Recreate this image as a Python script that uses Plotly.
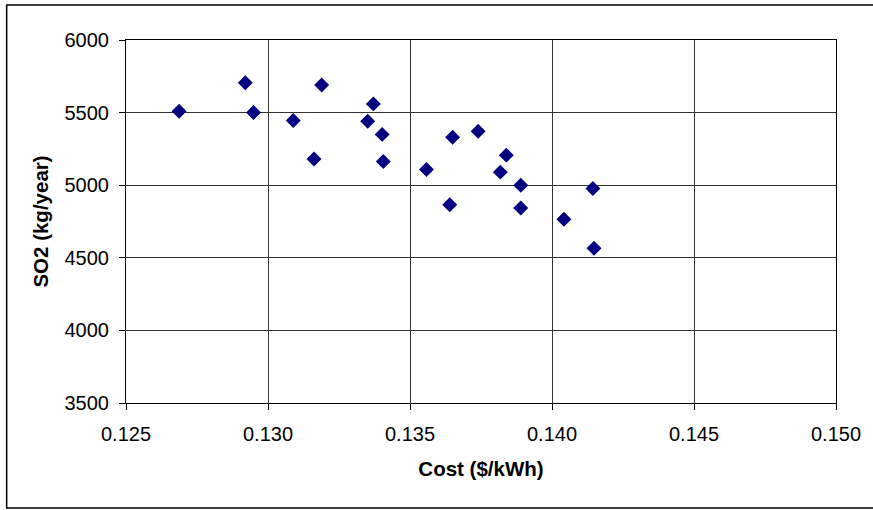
import plotly.graph_objects as go

# Cost vs. SO2 emissions for each design option
cost = [0.12687, 0.12920, 0.12949, 0.13089, 0.13162, 0.13189, 0.13351,
        0.13371, 0.13402, 0.13406, 0.13558, 0.13640, 0.13650, 0.13740,
        0.13818, 0.13839, 0.13890, 0.13890, 0.14042, 0.14144, 0.14148]
so2 = [5510, 5705, 5500, 5445, 5180, 5690, 5440,
       5560, 5350, 5163, 5108, 4866, 5330, 5372,
       5090, 5207, 5000, 4843, 4766, 4977, 4566]

x_ticks = [0.125, 0.130, 0.135, 0.140, 0.145, 0.150]
x_tick_text = ["0.125", "0.130", "0.135", "0.140", "0.145", "0.150"]
y_ticks = [3500, 4000, 4500, 5000, 5500, 6000]

W, H = 873, 510
ML, MR, MT, MB = 126, 33, 40, 107
pw, ph = W - ML - MR, H - MT - MB

FONT = "Liberation Sans, Arial, sans-serif"

fig = go.Figure(
    go.Scatter(
        x=cost, y=so2, mode="markers",
        marker=dict(symbol="diamond", size=11.5, color="#000080",
                    line=dict(width=0)),
        hoverinfo="x+y",
    )
)

axis_common = dict(
    showline=True, linecolor="#000000", linewidth=1, mirror=True,
    showgrid=True, gridcolor="#333333", gridwidth=1,
    ticks="outside", ticklen=6, tickcolor="#000000", tickwidth=1,
    zeroline=False,
    tickfont=dict(family=FONT, size=20, color="#000000"),
)

fig.update_xaxes(
    range=[0.125, 0.150], tickvals=x_ticks, ticktext=x_tick_text,
    ticklabelstandoff=7,
    title=dict(text="<b>Cost ($/kWh)</b>", standoff=17,
               font=dict(family=FONT, size=20.5, color="#000000")),
    **axis_common,
)
fig.update_yaxes(
    range=[3500, 6000], tickvals=y_ticks,
    ticklabelstandoff=6,
    title=dict(text="<b>SO2 (kg/year)</b>", standoff=10,
               font=dict(family=FONT, size=20.5, color="#000000")),
    **axis_common,
)

# outer chart-area frame
fig.add_shape(
    type="rect", xref="paper", yref="paper",
    x0=(6 - ML) / pw, x1=(W + 5 - ML) / pw,
    y0=(H - 508 - MB) / ph, y1=(H - 5 - MB) / ph,
    line=dict(color="#000000", width=1.5), fillcolor="rgba(0,0,0,0)",
    layer="below",
)

fig.update_layout(
    width=W, height=H,
    margin=dict(l=ML, r=MR, t=MT, b=MB),
    paper_bgcolor="#ffffff", plot_bgcolor="#ffffff",
    showlegend=False,
    font=dict(family=FONT, color="#000000"),
)

fig.write_html("out.html")
